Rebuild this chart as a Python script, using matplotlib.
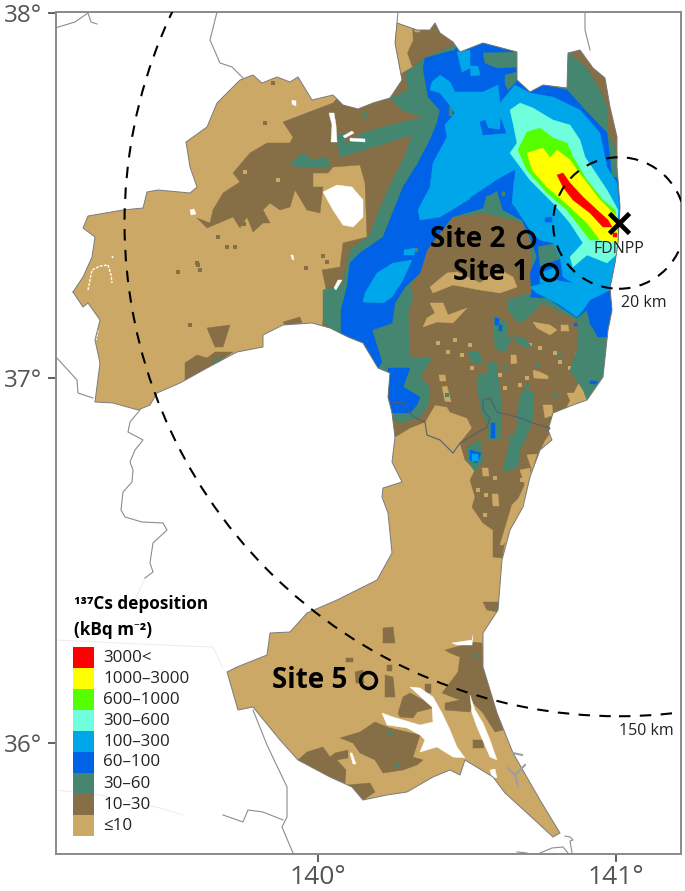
import matplotlib
matplotlib.use("Agg")
import matplotlib.pyplot as plt
from matplotlib.patches import Polygon, Ellipse, Rectangle

plt.rcParams['font.family'] = ['Open Sans', 'Noto Sans', 'DejaVu Sans']

# ---------- legend ----------
class_labels = ['3000<', '1000–3000', '600–1000', '300–600', '100–300', '60–100', '30–60', '10–30', '≤10']
class_colors = ['#FF0000', '#FFFF00', '#55FF00', '#70FFDC', '#00A6EA', '#0062E6', '#44866F', '#866E46', '#CBA866']
RED, YEL, LIM, TUR, LBL, BLU, GRN, BRN, TAN = class_colors

lon_ticks = [140, 141]
lat_ticks = [36, 37, 38]
sites = [('Site 2', 526, 239), ('Site 1', 549, 272), ('Site 5', 368, 680)]
fdnpp = (619, 223)
ring_radius_km = [20, 150]

# ---------- digitised outlines (x, y) ----------
outline = [(73,292),(83,277),(92,257),(95,237),(83,228),(88,216),(123,210),(143,208),(147,192),(158,190),(190,193),(197,187),(190,167),(186,142),(207,127),(217,103),(240,80),(253,75),(262,83),(277,77),(290,82),(298,77),(312,100),(333,95),(343,105),(358,109),(373,103),(390,98),(402,80),(395,43),(397,23),(417,30),(430,30),(435,23),(440,33),(453,42),(460,52),(483,43),(517,52),(517,80),(530,92),(543,85),(567,88),(568,53),(580,50),(593,68),(605,78),(610,107),(617,137),(617,167),(620,207),(618,243),(615,263),(610,288),(612,310),(608,330),(603,377),(587,400),(573,405),(553,413),(548,430),(552,440),(540,450),(530,477),(523,507),(510,530),(502,560),(498,610),(483,633),(483,667),(497,713),(513,753),(540,800),(560,833),(553,837),(527,813),(505,793),(493,777),(465,760),(460,775),(450,770),(433,777),(407,792),(387,795),(363,800),(352,787),(330,777),(298,760),(280,740),(253,707),(238,710),(227,672),(237,667),(267,655),(270,633),(290,632),(307,613),(337,600),(377,580),(392,553),(388,513),(382,497),(383,488),(402,482),(392,462),(395,437),(392,413),(388,397),(390,373),(378,368),(363,343),(348,337),(330,328),(312,323),(283,325),(263,335),(263,347),(237,352),(207,368),(180,383),(157,393),(150,405),(138,410),(113,403),(95,402),(100,363),(95,340),(100,320),(88,303),(83,307)]

brown_main = [(333,103),(283,122),(293,137),(290,143),(267,143),(250,153),(233,173),(240,182),(223,193),(213,210),(210,223),(197,218),(207,228),(233,217),(240,228),(247,217),(253,232),(263,223),(270,223),(263,210),(270,203),(280,210),(290,207),(295,190),(307,210),(320,213),(323,187),(313,187),(313,173),(328,173),(333,167),(360,165),(365,183),(367,237),(343,243),(340,267),(322,270),(327,293),(322,327),(370,350),(378,368),(395,437),(410,428),(425,422),(435,405),(447,407),(450,412),(467,418),(472,428),(460,443),(465,460),(475,470),(470,480),(475,497),(472,507),(483,523),(493,530),(493,557),(502,558),(505,540),(515,505),(545,440),(560,420),(620,300),(640,100),(600,30),(400,10),(385,60),(370,85),(340,95)]
brown_patches = [
    [(185,380),(185,363),(197,355),(207,358),(215,352),(233,352),(210,368),(197,375)],
    [(207,328),(230,325),(223,347),(215,347)],
    [(283,322),(300,317),(302,323),(285,325)],
    [(340,738),(360,732),(375,722),(390,728),(420,735),(413,757),(423,760),(417,765),(403,770),(383,773),(375,760),(360,753),(353,743)],
    [(298,760),(307,752),(323,747),(330,757),(335,753),(348,750),(348,758),(337,760),(346,770),(345,783),(330,777)],
    [(348,785),(370,783),(375,792),(363,800),(353,788)],
    [(445,650),(463,645),(472,642),(482,643),(483,667),(503,730),(495,732),(483,713),(473,703),(470,712),(445,710),(445,703),(460,700),(442,693),(452,680),(458,672),(460,657),(450,653)],
    [(398,713),(403,697),(410,693),(423,700),(433,708),(417,712),(413,718),(400,717)],
    [(385,675),(393,677),(395,697),(385,697)],
    [(383,628),(393,627),(395,643),(383,643)],
    [(483,602),(500,602),(498,612),(487,610)],
    [(473,740),(483,740),(484,748),(473,748)],
    [(355,672),(363,670),(364,683),(356,683)],
    [(346,658),(353,658),(353,662),(346,662)],
    [(387,665),(392,665),(392,671),(387,671)],
    [(425,684),(431,684),(431,693),(425,693)],
]
tan_patches = [
    [(397,23),(412,28),(413,40),(407,53),(412,67),(398,75),(393,50)],
    [(430,303),(443,303),(448,315),(467,308),(453,323),(437,322),(423,327),(427,318),(435,313)],
    [(430,287),(447,273),(457,272),(480,283),(500,270),(513,277),(517,287),(500,293),(480,290),(453,285),(433,293)],
    [(533,322),(550,325),(557,330),(550,335),(537,328)],
    [(561,325),(568,325),(569,331),(561,331)],
    [(511,355),(516,355),(517,363),(511,364)],
    [(533,370),(540,372),(548,376),(548,379),(534,378)],
    [(567,393),(583,393),(580,405),(570,400)],
    [(543,405),(552,405),(553,415),(545,418)],
    [(439,375),(445,375),(446,381),(440,381)],
    [(442,387),(447,386),(451,402),(445,401)],
    [(482,468),(488,468),(489,476),(483,476)],
    [(492,494),(498,494),(499,506),(493,506)],
    [(520,470),(530,468),(530,487),(525,486)],
    [(527,455),(537,454),(532,470)],
    [(500,545),(512,505),(520,497),(521,510),(512,530),(503,545)],
    [(414,26),(418,24),(420,32),(415,32)],
]
green_main = [(425,58),(405,73),(408,90),(390,98),(402,110),(423,117),(383,127),(363,133),(340,147),(340,157),(373,147),(412,135),(405,155),(394,177),(381,205),(370,235),(350,250),(342,285),(323,290),(323,322),(345,340),(378,368),(392,418),(400,423),(420,417),(428,405),(430,387),(420,377),(432,358),(410,357),(408,313),(413,297),(410,287),(420,270),(423,253),(450,222),(453,217),(483,213),(503,217),(523,223),(530,240),(532,270),(532,290),(530,297),(577,320),(590,330),(598,340),(612,340),(640,340),(640,180),(617,177),(615,147),(608,133),(607,107),(600,90),(588,70),(570,53),(568,45),(555,60),(515,40),(460,40),(455,45)]
green_patches = [
    [(290,163),(303,153),(313,160),(327,157),(330,167),(313,167),(300,168)],
    [(338,135),(345,133),(345,142),(343,150),(338,150)],
    [(363,112),(366,112),(367,118),(363,118)],
    [(213,360),(222,358),(220,364),(214,364)],
    [(583,310),(577,323),(578,347),(570,370),(583,390),(587,400),(605,380),(610,330),(610,310)],
    [(507,300),(533,292),(542,303),(523,322),(517,322),(508,310)],
    [(493,317),(508,323),(507,337),(523,337),(533,348),(523,347),(512,338),(505,352),(495,348)],
    [(468,352),(479,352),(483,362),(476,364),(472,363)],
    [(487,362),(497,363),(498,377),(500,390),(502,413),(500,440),(488,440),(487,423),(482,413),(478,393),(478,375),(487,373)],
    [(525,388),(533,393),(533,417),(528,433),(520,450),(518,467),(503,472),(508,447),(517,427),(517,413),(520,397)],
    [(467,447),(480,440),(483,460),(475,472),(467,460)],
]
green_tongues = [
    [(538,247),(557,243),(562,258),(540,266)],
    [(483,53),(517,52),(517,67),(497,68),(485,63)],
    [(505,75),(517,72),(516,82),(508,90),(505,84)],
    [(449,107),(452,106),(453,116),(449,116)],
    [(430,180),(436,180),(434,186)],
    [(502,192),(505,192),(505,196),(502,196)],
    [(413,248),(418,248),(418,252),(413,252)],
]
blue_main = [(423,68),(428,97),(440,110),(437,123),(430,140),(418,163),(403,187),(395,207),(383,237),(360,253),(350,263),(347,287),(341,310),(341,335),(360,360),(378,368),(382,362),(372,330),(392,323),(395,303),(405,287),(420,273),(427,250),(452,217),(483,208),(487,192),(497,190),(503,210),(522,220),(530,237),(537,257),(530,273),(532,293),(530,297),(547,298),(577,318),(587,310),(590,323),(598,337),(612,337),(640,300),(640,180),(612,177),(607,133),(585,110),(567,90),(543,85),(530,92),(517,80),(515,40),(460,40),(455,50),(425,58)]
blue_patches = [
    [(388,368),(410,368),(403,387),(420,397),(417,405),(410,413),(392,413),(388,397)],
    [(470,450),(481,453),(477,463),(470,460)],
    [(491,423),(495,423),(495,438),(491,438)],
    [(495,318),(499,318),(499,325),(495,325)],
    [(499,325),(502,325),(502,331),(499,331)],
    [(590,319),(594,319),(594,325),(590,325)],
    [(590,381),(597,381),(597,384),(590,384)],
]
lightblue_main = [(432,82),(440,75),(450,82),(455,92),(483,92),(498,85),(500,103),(515,85),(530,93),(553,97),(580,110),(600,133),(607,167),(617,183),(619,207),(617,263),(612,287),(610,290),(580,287),(563,277),(560,257),(553,243),(540,240),(532,233),(517,210),(512,203),(515,170),(497,180),(483,190),(468,200),(440,217),(420,220),(418,210),(430,187),(433,163),(447,137),(445,125),(455,113),(448,103),(440,93),(430,90)]
lightblue_patches = [
    [(365,293),(377,273),(393,263),(412,260),(403,280),(392,297),(383,303),(363,302)],
    [(555,280),(610,290),(590,300),(583,310),(577,317),(560,305),(537,293),(530,287)],
    [(540,273),(557,267),(557,280),(540,283)],
    [(457,52),(470,50),(470,68),(462,72)],
    [(470,66),(478,66),(480,75),(471,76)],
    [(404,250),(415,248),(414,255),(404,255)],
    [(472,454),(478,454),(478,461),(472,461)],
]
blue_holes = [
    [(480,122),(485,120),(488,128),(500,130),(501,119),(506,133),(483,135)],
    [(514,180),(515,170),(497,180),(470,198),(490,195)],
    [(545,218),(552,217),(552,222),(545,222)],
    [(574,323),(577,323),(577,326),(574,326)],
]
turquoise = [(510,110),(520,103),(533,108),(553,120),(570,125),(580,140),(585,157),(607,190),(618,210),(617,237),(618,253),(607,263),(587,255),(573,267),(570,257),(583,243),(570,223),(553,203),(530,180),(510,153),(517,143),(513,123)]
lime = [(518,150),(527,132),(540,128),(553,138),(567,143),(573,157),(587,180),(603,200),(615,210),(617,223),(607,223),(598,240),(590,240),(580,227),(567,210),(547,193),(527,170)]
yellow = [(527,153),(543,148),(550,158),(557,150),(570,160),(577,170),(600,200),(617,217),(618,243),(600,240),(587,223),(570,207),(547,187),(532,170)]
red = [(557,175),(563,173),(570,183),(583,197),(597,210),(608,220),(612,227),(603,227),(590,213),(573,200),(563,187)]
red_dot = [(613,233),(617,233),(617,237),(613,237)]
white_patches = [
    [(323,192),(337,185),(352,187),(363,200),(363,217),(353,227),(343,225),(333,210)],
    [(329,113),(334,113),(336,125),(337,142),(331,142),(332,125)],
    [(343,136),(352,131),(354,133),(345,138)],
    [(350,138),(365,139),(365,142),(350,141)],
    [(382,713),(393,717),(420,725),(433,722),(432,707),(410,687),(420,688),(433,697),(442,713),(450,730),(457,747),(465,758),(453,757),(437,747),(420,752),(425,740),(420,735),(407,728),(387,725)],
    [(470,695),(475,710),(483,723),(490,740),(497,760),(490,757),(477,727),(472,713)],
    [(452,643),(472,640),(473,635),(472,645),(457,645)],
    [(490,770),(495,769),(497,778),(492,777)],
    [(350,753),(352,753),(356,764),(353,764)],
    [(190,210),(194,209),(196,214),(191,215)],
    [(292,100),(296,101),(296,106),(292,104)],
    [(338,280),(342,280),(336,290),(334,288)],
    [(291,255),(293,255),(294,260),(292,259)],
]
white_streaks = [
    [(88,290),(92,270),(100,266),(108,265),(111,275),(112,283)],
    [(113,258),(112,256)],
    [(98,330),(96,340)],
]
# specks
brown_specks = [(265,123),(273,83),(197,263),(198,265),(227,247),(235,247),(178,272),(200,270),(218,237),(244,224),(306,268),(323,256),(327,262),(190,325)]
tan_specks = [(245,172),(278,180),(455,340),(470,345),(530,345),(555,353),(570,368),(493,370),(500,375),(540,348),(448,352),(560,362),(577,355),(527,378),(520,385),(505,388),(495,478),(478,490),(522,480),(485,515),(486,495),(472,368),(438,343),(462,355),(585,350)]
green_specks = [(390,733),(476,655),(398,765),(510,438),(556,395),(538,365),(505,368),(528,385),(560,355),(447,395)]

# ---------- boundaries ----------
pref_border = [(392,403),(402,402),(410,412),(413,417),(425,422),(427,435),(440,440),(453,453),(460,443),(487,427),(490,418),(483,410),(483,400),(490,398),(497,412),(517,417),(533,423),(550,428),(548,431)]
grey_lines = [
    [(55,28),(75,22),(88,13),(91,22),(97,24)],
    [(217,12),(210,40),(220,63),(232,67),(243,78)],
    [(56,357),(77,380),(78,393),(93,398)],
    [(140,410),(130,422),(128,432),(143,440),(135,450),(130,462),(133,470),(132,482),(123,492),(121,510),(125,517),(142,522),(163,523),(167,530),(153,543),(150,563),(153,572),(145,578)],
    [(398,12),(397,23)],
    [(585,12),(585,30),(590,50)],
    [(253,710),(267,745),(287,787),(287,817),(282,827),(293,853)],
    [(223,815),(243,822),(248,810),(263,812),(283,820)],
    [(517,852),(527,853)],
    [(540,853),(552,848),(563,847),(568,853)],
    [(565,836),(570,837),(573,840),(570,841),(572,853)],
]
river_lines = [
    [(508,768),(515,775),(525,765)],
    [(515,775),(518,786)],
    [(513,753),(522,755)],
]
faint_lines = [
    [(56,640),(100,642),(160,645),(213,647),(223,668)],
    [(56,790),(100,795),(160,808),(183,815)],
    [(145,578),(135,600)],
]

GEO_X0, GEO_KX, GEO_Y0, GEO_KY = 318, 298, 378, 365

def lon(x):
    return 140 + (x - GEO_X0) / GEO_KX

def lat(y):
    return 37 + (GEO_Y0 - y) / GEO_KY

def geo(poly):
    return [(lon(x), lat(y)) for x, y in poly]

W, H = 685, 891
fig = plt.figure(figsize=(W / 100, H / 100), dpi=100)
L, R, T, B = 55.5, 681, 12, 853.5
ax = fig.add_axes([L / W, 1 - B / H, (R - L) / W, (B - T) / H])
ax.set_xlim(lon(L), lon(R))
ax.set_ylim(lat(B), lat(T))

clip = Polygon(geo(outline), closed=True, transform=ax.transData, fc='none', ec='none')
ax.add_patch(clip)

def fill(poly, color, z):
    p = Polygon(geo(poly), closed=True, fc=color, ec=color, lw=0.3, zorder=z)
    ax.add_patch(p)
    p.set_clip_path(clip)

def specks(points, color, z, size=7):
    xs, ys = zip(*geo(points))
    c = ax.scatter(xs, ys, s=size, color=color, marker='s', linewidths=0, zorder=z)
    c.set_clip_path(clip)

fill(outline, TAN, 1)
fill(brown_main, BRN, 2)
for q in brown_patches:
    fill(q, BRN, 2)
specks(brown_specks, BRN, 2, 6)
for q in tan_patches:
    fill(q, TAN, 3)
specks(tan_specks, TAN, 3, 9)
fill(green_main, GRN, 4)
for q in green_patches:
    fill(q, GRN, 4)
specks(green_specks, GRN, 4, 9)
fill(blue_main, BLU, 5)
for q in blue_patches:
    fill(q, BLU, 6)
for q in green_tongues:
    fill(q, GRN, 6)
fill(lightblue_main, LBL, 7)
for q in lightblue_patches:
    fill(q, LBL, 8)
for q in blue_holes:
    fill(q, BLU, 9)
fill(turquoise, TUR, 10)
fill(lime, LIM, 11)
fill(yellow, YEL, 12)
fill(red, RED, 13)
fill(red_dot, RED, 13)
for q in white_patches:
    fill(q, 'white', 14)
for s in white_streaks:
    xs, ys = zip(*geo(s))
    ax.plot(xs, ys, color='white', lw=1.0, ls=(0, (2, 1)), zorder=14)

# boundaries
xs, ys = zip(*geo(outline + outline[:1]))
ax.plot(xs, ys, color='#7a7a7a', lw=0.7, zorder=15)
for s in grey_lines:
    xs, ys = zip(*geo(s))
    ax.plot(xs, ys, color='#8c8c8c', lw=0.8, zorder=15)
for s in river_lines:
    xs, ys = zip(*geo(s))
    ax.plot(xs, ys, color='#9aa0a8', lw=1.5, zorder=15)
for s in faint_lines:
    xs, ys = zip(*geo(s))
    ax.plot(xs, ys, color='#ececec', lw=0.7, zorder=0.5)
xs, ys = zip(*geo(pref_border))
ax.plot(xs, ys, color='#555f6a', lw=0.8, zorder=15)

# distance rings
flon, flat = lon(fdnpp[0]), lat(fdnpp[1])
for km in ring_radius_km:
    e = Ellipse((flon, flat), 2 * km / 90.4, 2 * km / 111.0, fc='none', ec='black',
                lw=1.5, ls=(0, (5.5, 4.5)), zorder=16)
    ax.add_patch(e)

# markers
ax.plot([flon], [flat], marker='x', ms=15, mew=3.4, color='black', zorder=18, ls='none')
for name, x, y in sites:
    ax.plot([lon(x)], [lat(y)], marker='o', ms=11.5, mew=2.5, mfc='none', mec='black', zorder=18, ls='none')
    ax.text(lon(x - 21), lat(y), name, fontsize=20, fontweight='bold', ha='right', va='center', zorder=19)
ax.text(lon(619), lat(249), 'FDNPP', fontsize=11.5, ha='center', va='center', color='#222222', zorder=19)
ax.text(lon(644), lat(303), '20 km', fontsize=11.5, ha='center', va='center', color='#222222', zorder=19)
ax.text(lon(646), lat(731), '150 km', fontsize=11.5, ha='center', va='center', color='#222222', zorder=19)

# legend
ax.text(lon(74), lat(604), '¹³⁷Cs deposition', fontsize=12.3, fontweight='bold', va='center', ha='left', zorder=19)
ax.text(lon(74), lat(630), '(kBq m⁻²)', fontsize=12.3, fontweight='bold', va='center', ha='left', zorder=19)
for i, (label, col) in enumerate(zip(class_labels, class_colors)):
    y0 = 647 + 21 * i
    ax.add_patch(Rectangle((lon(73), lat(y0 + 21)), lon(94) - lon(73), lat(y0) - lat(y0 + 21),
                           fc=col, ec='none', zorder=19))
    ax.text(lon(103), lat(y0 + 10.5), label, fontsize=12.2, va='center', ha='left', color='#222222', zorder=19)

# axes furniture
for s in ax.spines.values():
    s.set_color('#8a8a8a')
    s.set_linewidth(1.4)
ax.set_xticks(lon_ticks)
ax.set_xticklabels([f'{v}°' for v in lon_ticks])
ax.set_yticks(lat_ticks)
ax.set_yticklabels([f'{v}°' for v in lat_ticks])
ax.tick_params(axis='both', length=5.5, width=1.2, color='#444444', labelcolor='#555555', labelsize=19)
ax.tick_params(axis='x', pad=3)
ax.tick_params(axis='y', pad=4, labelsize=17.5)
ax.patch.set_facecolor('white')

fig.savefig('out.png', dpi=100)
